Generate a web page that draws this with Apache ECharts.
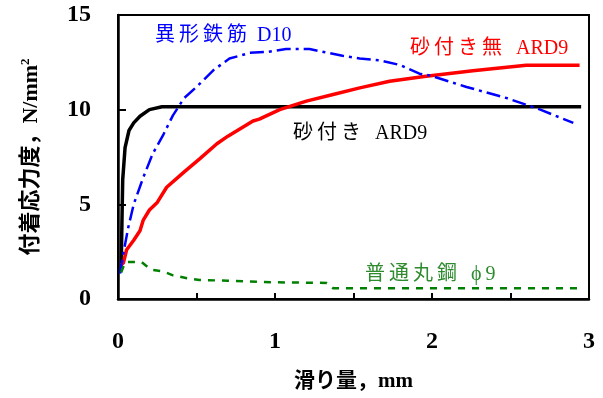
<!DOCTYPE html>
<html><head><meta charset="utf-8">
<script src="https://cdn.jsdelivr.net/npm/echarts@6/dist/echarts.min.js"></script>
<style>html,body{margin:0;padding:0;background:#fff}#c{width:603px;height:398px}</style>
</head><body><div id="c"></div>
<script>
// slip (mm), bond stress (N/mm2)
const sandARD9 = [[0.02,1.5],[0.025,4.0],[0.03,6.3],[0.045,8.0],[0.07,8.9],[0.1,9.3],[0.14,9.65],[0.2,10.0],[0.28,10.15],[1.0,10.15],[2.0,10.15],[2.95,10.15]];
const noSandARD9 = [[0.02,1.8],[0.034,1.9],[0.055,2.6],[0.1,3.1],[0.14,3.6],[0.16,4.15],[0.2,4.7],[0.25,5.1],[0.31,5.9],[0.42,6.7],[0.52,7.4],[0.63,8.2],[0.7,8.6],[0.86,9.4],[0.9,9.5],[1.03,10.0],[1.2,10.45],[1.37,10.8],[1.54,11.15],[1.73,11.5],[1.95,11.75],[2.26,12.05],[2.43,12.2],[2.6,12.35],[2.94,12.35]];
const deformedD10 = [[0.013,1.35],[0.034,2.4],[0.066,3.8],[0.1,5.0],[0.16,6.4],[0.22,7.65],[0.29,8.7],[0.35,9.7],[0.42,10.6],[0.5,11.2],[0.61,12.1],[0.71,12.7],[0.84,13.0],[0.95,13.05],[1.07,13.2],[1.22,13.2],[1.31,13.05],[1.43,12.85],[1.54,12.7],[1.67,12.6],[1.8,12.35],[1.92,11.9],[1.99,11.8],[2.22,11.2],[2.48,10.6],[2.69,10.0],[2.9,9.3]];
const roundPhi9 = [[0.02,1.4],[0.045,1.95],[0.15,1.95],[0.21,1.55],[0.29,1.45],[0.35,1.25],[0.44,1.1],[0.52,1.0],[0.7,0.97],[0.9,0.9],[1.1,0.87],[1.33,0.85],[1.37,0.57],[2.0,0.57],[2.95,0.57]];
const xTicks = [0,1,2,3];
const yTicks = [0,5,10,15];
const labels = {
  deformed: '異\u2009形\u2009鉄\u2009筋\u2002D10',
  noSand: '砂\u2009付\u2009き\u2009無\u2002\u2009ARD9',
  sand: '砂\u2009付\u2009き\u2002\u2009ARD9',
  round: '普\u2009通\u2009丸\u2009鋼\u2002\u2009ϕ\u20099'
};

const chart = echarts.init(document.getElementById('c'));
const serif = "'Liberation Serif','Noto Sans CJK JP'";
const lbl = {fontFamily: serif, fontWeight:'bold', fontSize:24, color:'#000'};
const annFont = "20px 'Liberation Serif','Noto Sans CJK JP'";
chart.setOption({
  animation:false,
  grid:{left:118,right:14,top:15,bottom:99,show:true,borderColor:'#000',borderWidth:2},
  xAxis:{type:'value',min:0,max:3,interval:0.5,
    axisLine:{lineStyle:{color:'#000',width:2.5}},
    axisTick:{inside:true,length:6,lineStyle:{color:'#000',width:2}},
    splitLine:{show:false},
    axisLabel:Object.assign({margin:31,formatter:v=>xTicks.includes(v)?String(v):''},lbl),
    name:'滑り量，mm',nameLocation:'middle',nameGap:72,
    nameTextStyle:{fontFamily:serif,fontWeight:'bold',fontSize:21,color:'#000'}},
  yAxis:{type:'value',min:0,max:15,interval:5,
    axisLine:{lineStyle:{color:'#000',width:2.5}},
    axisTick:{inside:true,length:8,lineStyle:{color:'#000',width:2}},
    splitLine:{show:false},
    axisLabel:Object.assign({margin:27,formatter:v=>yTicks.includes(v)?String(v):''},lbl),
    name:'付着応力度，N/mm{sup|2}',nameLocation:'middle',nameGap:74,nameRotate:90,
    nameTextStyle:{fontFamily:serif,fontWeight:'bold',fontSize:22,color:'#000',
      rich:{sup:{fontFamily:serif,fontWeight:'bold',fontSize:13,verticalAlign:'top',padding:[0,0,12,0]}}}},
  series:[
    {type:'line',data:sandARD9,showSymbol:false,lineStyle:{color:'#000',width:3.5},z:3},
    {type:'line',data:noSandARD9,showSymbol:false,lineStyle:{color:'#ff0000',width:3.5},z:4},
    {type:'line',data:deformedD10,showSymbol:false,lineStyle:{color:'#0000ff',width:2.5,type:[14,5,3,5]},z:5},
    {type:'line',data:roundPhi9,showSymbol:false,lineStyle:{color:'#008000',width:2.5,type:[7,7]},z:5}
  ],
  graphic:[
    {type:'text',left:155,top:26,style:{text:labels.deformed,fill:'#0000ff',font:annFont}},
    {type:'text',left:410,top:39,style:{text:labels.noSand,fill:'#ff0000',font:annFont}},
    {type:'text',left:293,top:124,style:{text:labels.sand,fill:'#000',font:annFont}},
    {type:'text',left:365,top:265,style:{text:labels.round,fill:'#2e8b2e',font:annFont}}
  ]
});
</script></body></html>
